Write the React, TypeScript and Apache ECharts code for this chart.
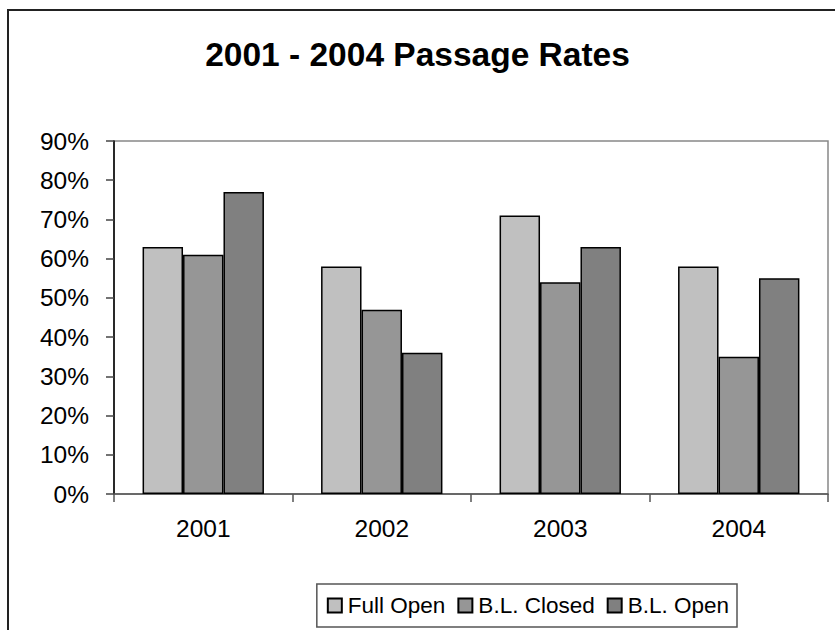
import React, { useEffect, useRef } from "react";
import * as echarts from "echarts";

const years = ["2001", "2002", "2003", "2004"];
const fullOpen = [63, 58, 71, 58];
const blClosed = [61, 47, 54, 35];
const blOpen = [77, 36, 63, 55];
const seriesNames = ["Full Open", "B.L. Closed", "B.L. Open"];
const seriesColors = ["#C0C0C0", "#969696", "#808080"];

export default function App() {
  const ref = useRef<HTMLDivElement>(null);
  useEffect(() => {
    if (!ref.current) return;
    const chart = echarts.init(ref.current, null, { renderer: "svg" });
    const font = "Arial, 'Liberation Sans', sans-serif";
    const values = [fullOpen, blClosed, blOpen];
    chart.setOption({
      animation: false,
      backgroundColor: "#ffffff",
      textStyle: { fontFamily: font },
      title: {
        text: "2001 - 2004 Passage Rates",
        left: "center",
        top: 38,
        padding: 0,
        textStyle: { fontSize: 33.5, fontWeight: "bold", color: "#000", fontFamily: font, lineHeight: 33 },
      },
      graphic: [
        {
          type: "rect",
          shape: { x: 8, y: 10, width: 900, height: 700 },
          style: { fill: "none", stroke: "#222", lineWidth: 2 },
          silent: true,
          z: 100,
        },
      ],
      legend: {
        data: seriesNames,
        right: 98,
        top: 584,
        orient: "horizontal",
        backgroundColor: "#fff",
        borderColor: "#555",
        borderWidth: 1.5,
        borderRadius: 0,
        padding: [10, 8, 10, 10],
        itemWidth: 14,
        itemHeight: 14,
        itemGap: 12,
        icon: "rect",
        textStyle: { fontSize: 22.5, color: "#000", fontFamily: font, padding: [0, 0, 0, 1] },
      },
      grid: {
        left: 114,
        right: 7,
        top: 141,
        bottom: 136,
        show: true,
        borderColor: "#888",
        borderWidth: 1.5,
        containLabel: false,
      },
      xAxis: {
        type: "category",
        data: years,
        axisLine: { show: true, lineStyle: { color: "#555", width: 1.5 } },
        axisTick: { show: true, length: 8, lineStyle: { color: "#555", width: 1.5 } },
        axisLabel: { fontSize: 24.5, color: "#000", margin: 22, fontFamily: font },
        splitLine: { show: false },
      },
      yAxis: {
        type: "value",
        min: 0,
        max: 90,
        interval: 10,
        axisLine: { show: true, lineStyle: { color: "#000", width: 1.5 } },
        axisTick: { show: true, length: 8, lineStyle: { color: "#444", width: 1.5 } },
        axisLabel: { fontSize: 24.5, color: "#000", margin: 25, formatter: "{value}%", fontFamily: font },
        splitLine: { show: false },
      },
      series: seriesNames.map((name, i) => ({
        name,
        type: "bar",
        data: values[i],
        barGap: "0%",
        barCategoryGap: "32%",
        itemStyle: { color: seriesColors[i], borderColor: "#000", borderWidth: 1.5 },
      })),
    });
    return () => chart.dispose();
  }, []);
  return <div ref={ref} style={{ width: 835, height: 630, position: "absolute", left: 0, top: 0 }} />;
}
